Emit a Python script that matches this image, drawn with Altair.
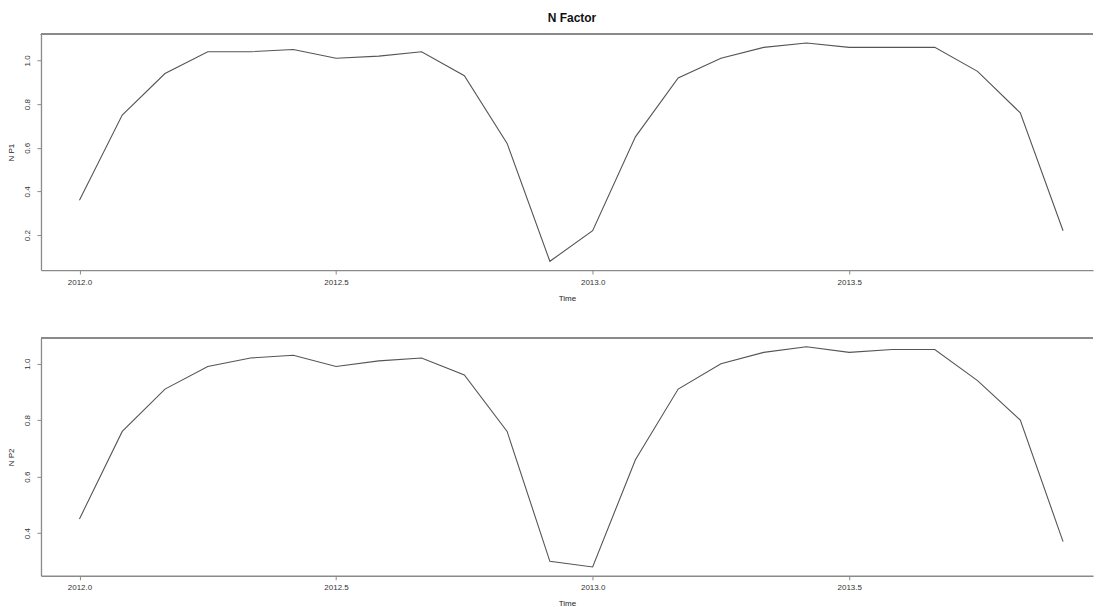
import altair as alt
import pandas as pd

years = [2012] * 12 + [2013] * 12
months = list(range(1, 13)) * 2
np1 = [0.36, 0.75, 0.94, 1.04, 1.04, 1.05, 1.01, 1.02, 1.04, 0.93, 0.62, 0.08,
       0.22, 0.65, 0.92, 1.01, 1.06, 1.08, 1.06, 1.06, 1.06, 0.95, 0.76, 0.22]
np2 = [0.45, 0.76, 0.91, 0.99, 1.02, 1.03, 0.99, 1.01, 1.02, 0.96, 0.76, 0.30,
       0.28, 0.66, 0.91, 1.00, 1.04, 1.06, 1.04, 1.05, 1.05, 0.94, 0.80, 0.37]
x_ticks = [2012.0, 2012.5, 2013.0, 2013.5]
y1_ticks = [0.2, 0.4, 0.6, 0.8, 1.0]
y2_ticks = [0.4, 0.6, 0.8, 1.0]

df = pd.DataFrame({
    "Time": [y + (m - 1) / 12 for y, m in zip(years, months)],
    "NP1": np1,
    "NP2": np2,
})

W = 1053
FONT = "Liberation Sans"
BOX = "#8a8a8a"
LINE = "#555555"
XDOM = [2011.925, 2013.975]


def panel(col, label, ydom, yticks, h, title=None):
    base = alt.Chart(df)
    xax = alt.Axis(values=x_ticks, format=".1f", title="Time", grid=False,
                   domainColor=BOX, domainWidth=1.3, tickColor=BOX, tickSize=4,
                   labelFontSize=8, labelColor="#333", labelPadding=4,
                   titleFontSize=8, titleFontWeight="normal", titleColor="#222",
                   titlePadding=8, labelFont=FONT, titleFont=FONT)
    yax = alt.Axis(values=yticks, format=".1f", title=label, grid=False,
                   domainColor=BOX, domainWidth=1.3, tickColor=BOX, tickSize=4,
                   labelFontSize=8, labelColor="#333", labelAngle=-90,
                   labelAlign="center", labelBaseline="bottom", labelPadding=5,
                   titleFontSize=8, titleFontWeight="normal", titleColor="#222",
                   titlePadding=8, labelFont=FONT, titleFont=FONT)
    line = base.mark_line(color=LINE, strokeWidth=1.1, clip=True).encode(
        x=alt.X("Time:Q", scale=alt.Scale(domain=XDOM, nice=False, zero=False), axis=xax),
        y=alt.Y(f"{col}:Q", scale=alt.Scale(domain=ydom, nice=False, zero=False), axis=yax),
    )
    top = base.mark_rule(color=BOX, strokeWidth=1.3).encode(
        x=alt.value(0), x2=alt.value(W), y=alt.value(0)
    )
    ch = alt.layer(line, top).properties(width=W, height=h)
    if title:
        ch = ch.properties(title=alt.TitleParams(
            title, fontSize=12, fontWeight="bold", font=FONT, color="#111",
            anchor="middle", frame="group", dx=5, offset=9))
    return ch


c1 = panel("NP1", "N P1", [0.04, 1.12], y1_ticks, 236, title="N Factor")
c2 = panel("NP2", "N P2", [0.249, 1.091], y2_ticks, 238)

chart = alt.vconcat(c1, c2, spacing=35).properties(
    padding={"left": 0, "top": 3, "right": 0, "bottom": 0},
    background="white",
).configure_view(stroke=None)

chart.save("out.html", embed_options={"renderer": "svg", "actions": False})
